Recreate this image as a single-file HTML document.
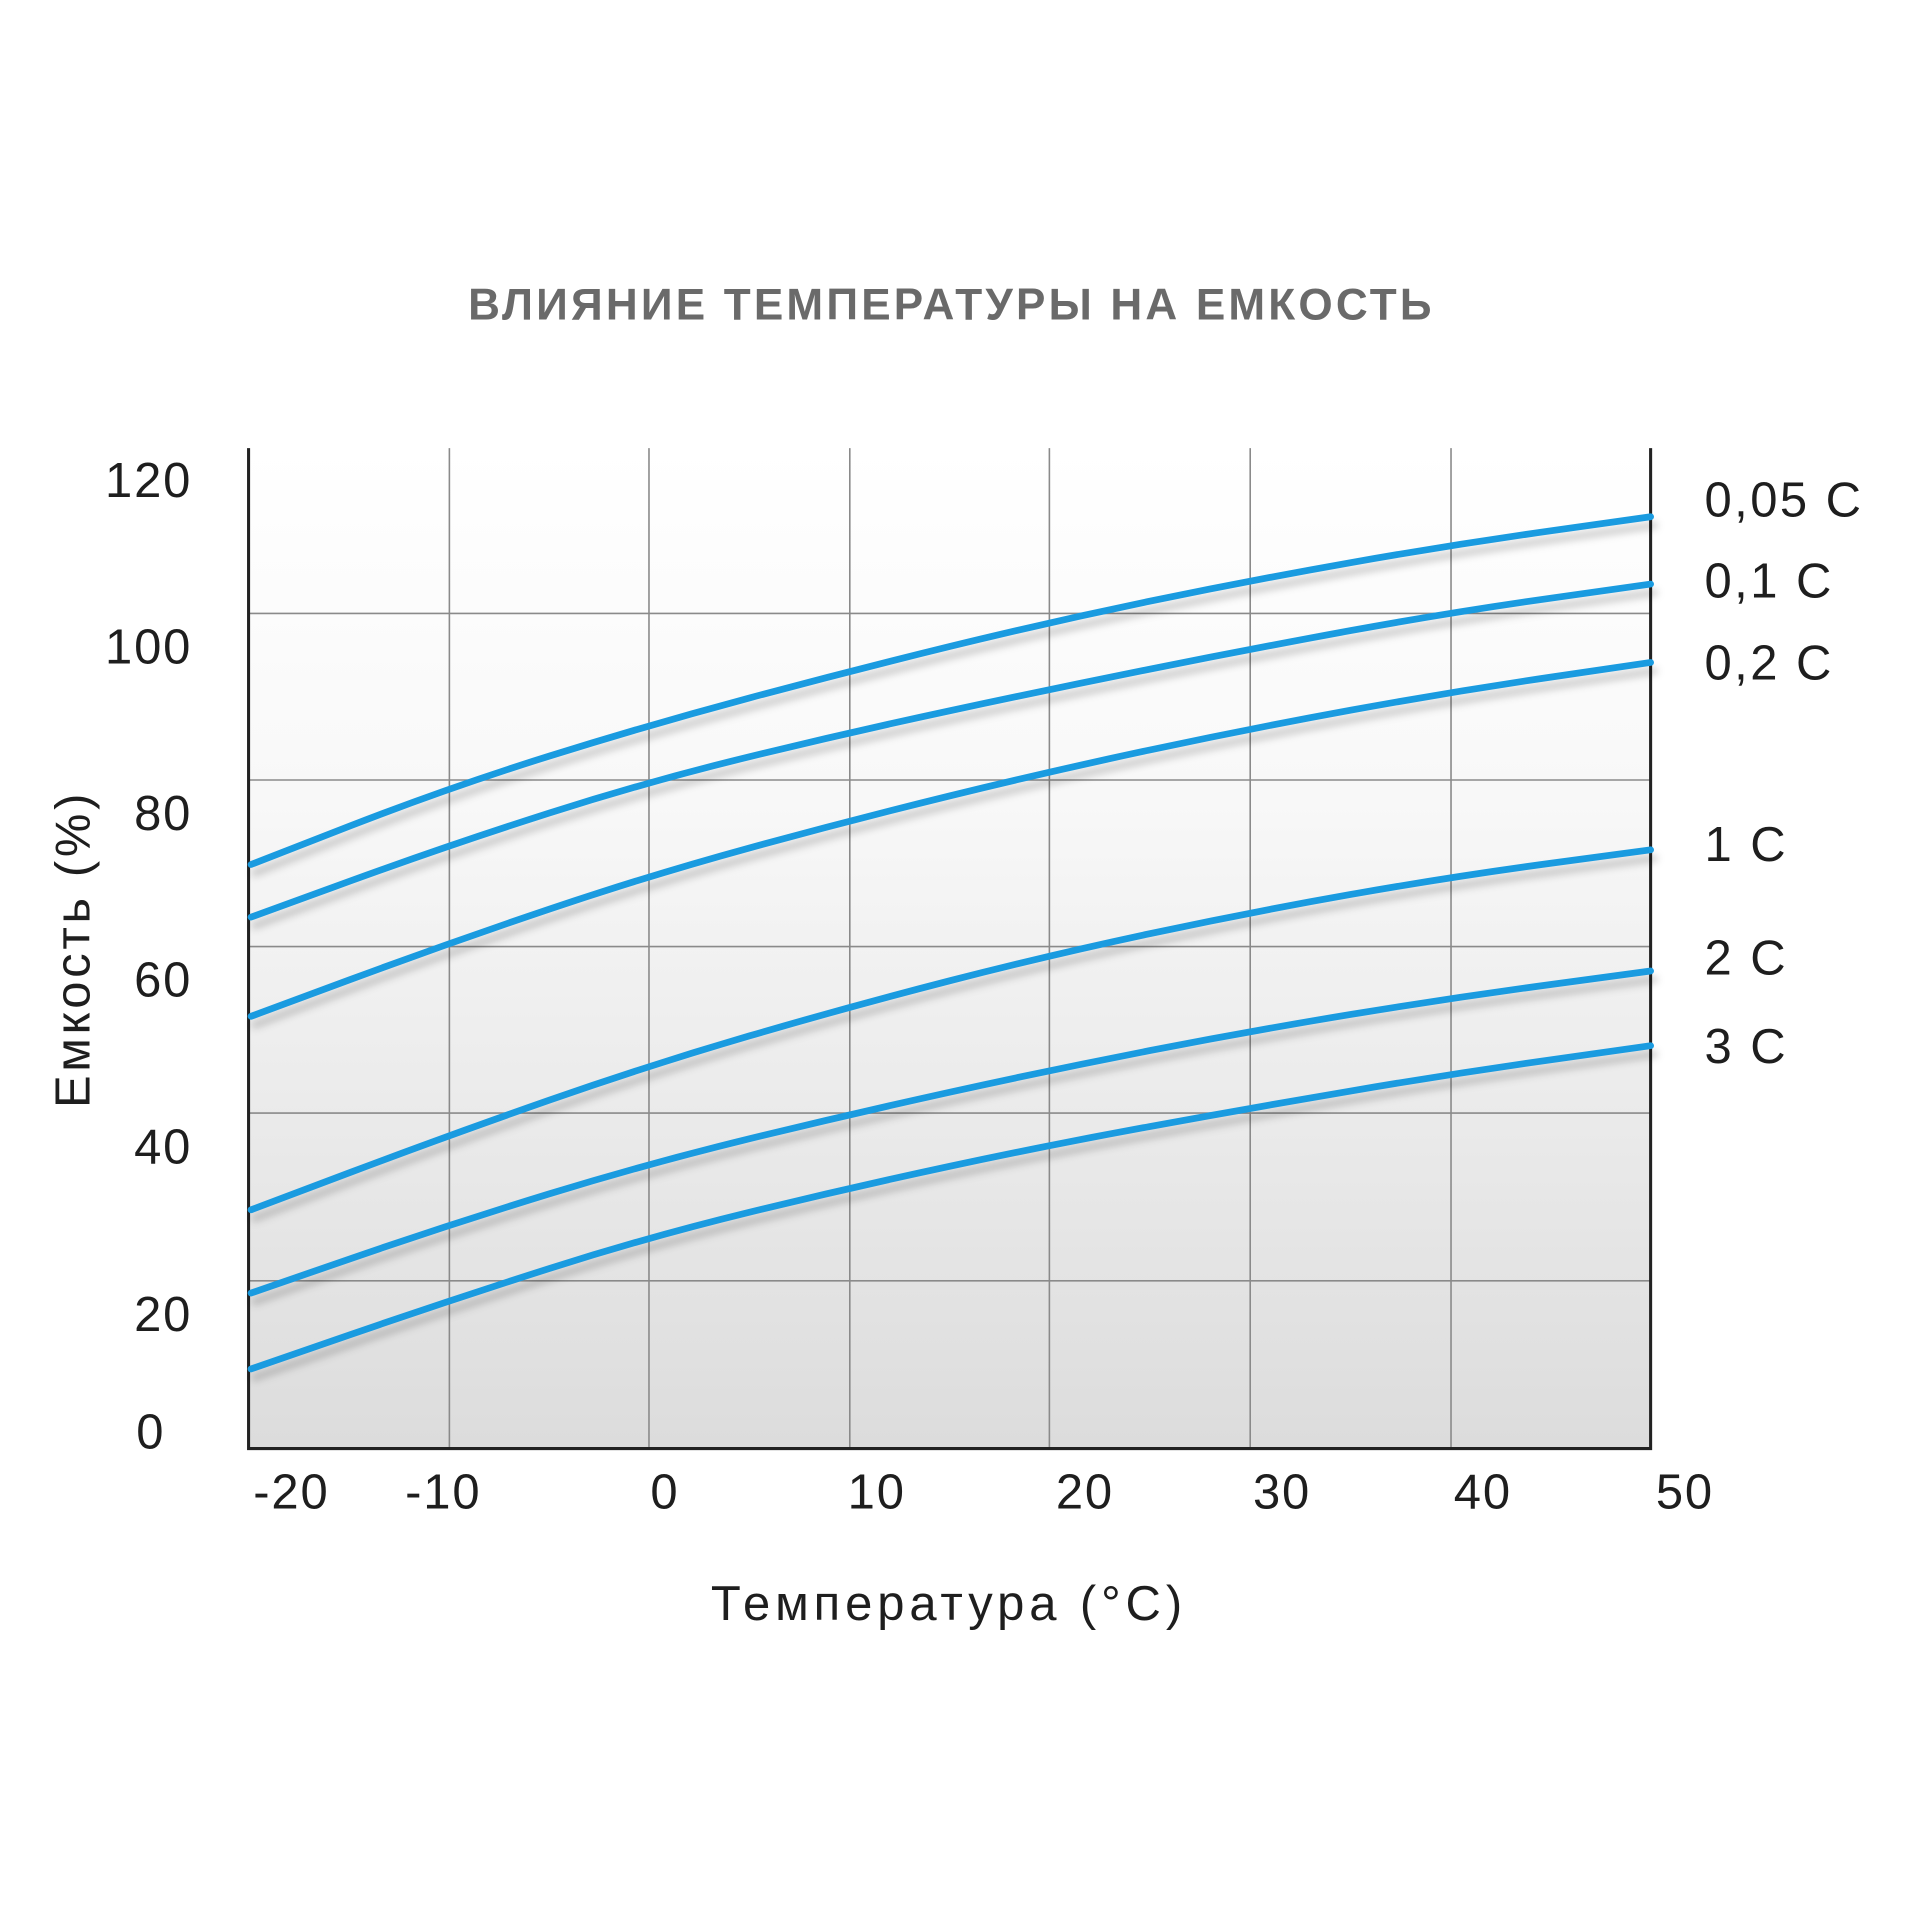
<!DOCTYPE html>
<html><head><meta charset="utf-8"><style>html,body{margin:0;padding:0;background:#fff}svg{display:block}</style></head>
<body>
<svg width="1920" height="1920" viewBox="0 0 1568 1568" xmlns="http://www.w3.org/2000/svg" font-family="'Liberation Sans','DejaVu Sans',sans-serif">
<defs>
<linearGradient id="bg" x1="0" y1="0" x2="0" y2="1">
<stop offset="0" stop-color="#ffffff"/><stop offset="0.35" stop-color="#f8f8f8"/><stop offset="1" stop-color="#dcdcdc"/>
</linearGradient>
<filter id="sh" x="-5%" y="-20%" width="110%" height="140%"><feGaussianBlur stdDeviation="3"/></filter>
<path id="c1" d="M205,706 L286,674.5 Q367,643 448.5,617.5 Q530,592 612,570 Q694,548 775.5,528 Q857,508 939,491 Q1021,474 1103,459.5 Q1185,445 1266.5,433.5 L1348,422"/>
<path id="c2" d="M205,749 L286,719.5 Q367,690 448.5,664 Q530,638 612,618 Q694,598 775.5,580.5 Q857,563 939,546.5 Q1021,530 1103,515 Q1185,500 1266.5,488.5 L1348,477"/>
<path id="c3" d="M205,830 L286,800 Q367,770 448.5,742.5 Q530,715 612,692.5 Q694,670 775.5,650 Q857,630 939,612.5 Q1021,595 1103,580 Q1185,565 1266.5,553 L1348,541"/>
<path id="c4" d="M205,988 L286,957.5 Q367,927 448.5,898.5 Q530,870 612,846 Q694,822 775.5,801 Q857,780 939,762.5 Q1021,745 1103,730.5 Q1185,716 1266.5,705 L1348,694"/>
<path id="c5" d="M205,1056 L286,1028 Q367,1000 448.5,975 Q530,950 612,930 Q694,910 775.5,892 Q857,874 939,858 Q1021,842 1103,828.5 Q1185,815 1266.5,804 L1348,793"/>
<path id="c6" d="M205,1118 L286,1090 Q367,1062 448.5,1036 Q530,1010 612,990 Q694,970 775.5,952.5 Q857,935 939,920 Q1021,905 1103,891 Q1185,877 1266.5,865.5 L1348,854"/>
</defs>
<rect width="1568" height="1568" fill="#fff"/>
<text x="777" y="261" text-anchor="middle" font-size="36" font-weight="bold" fill="#6a6a6a" letter-spacing="2.6">ВЛИЯНИЕ ТЕМПЕРАТУРЫ НА ЕМКОСТЬ</text>
<rect x="203" y="366" width="1145" height="817" fill="url(#bg)"/>
<g stroke="#8a8a8a" stroke-width="1.3">
<line x1="367" y1="366" x2="367" y2="1183"/><line x1="530" y1="366" x2="530" y2="1183"/>
<line x1="694" y1="366" x2="694" y2="1183"/><line x1="857" y1="366" x2="857" y2="1183"/>
<line x1="1021" y1="366" x2="1021" y2="1183"/><line x1="1185" y1="366" x2="1185" y2="1183"/>
<line x1="203" y1="501" x2="1348" y2="501"/><line x1="203" y1="637" x2="1348" y2="637"/>
<line x1="203" y1="773" x2="1348" y2="773"/><line x1="203" y1="909" x2="1348" y2="909"/>
<line x1="203" y1="1046" x2="1348" y2="1046"/>
</g>
<g stroke="#222" stroke-width="2.5" fill="none">
<polyline points="203,366 203,1183 1348,1183 1348,366"/>
</g>
<g fill="none" stroke-linecap="round" stroke-linejoin="round">
<g stroke="#000" stroke-opacity="0.18" stroke-width="6" filter="url(#sh)" transform="translate(3,7)">
<use href="#c1"/><use href="#c2"/><use href="#c3"/><use href="#c4"/><use href="#c5"/><use href="#c6"/>
</g>
<g stroke="#1a9be0" stroke-width="5.5">
<use href="#c1"/><use href="#c2"/><use href="#c3"/><use href="#c4"/><use href="#c5"/><use href="#c6"/>
</g>
</g>
<g font-size="40" fill="#1e1e1e">
<g text-anchor="end" letter-spacing="1.5">
<text x="157" y="406">120</text><text x="157" y="542">100</text><text x="157" y="678">80</text>
<text x="157" y="814">60</text><text x="157" y="950">40</text><text x="157" y="1087">20</text>
<text x="135" y="1183">0</text>
</g>
<g text-anchor="middle" letter-spacing="1.5">
<text x="238" y="1232">-20</text><text x="362" y="1232">-10</text><text x="543" y="1232">0</text>
<text x="716" y="1232">10</text><text x="886" y="1232">20</text><text x="1047" y="1232">30</text>
<text x="1211" y="1232">40</text><text x="1376" y="1232">50</text>
</g>
<g letter-spacing="2">
<text x="1392" y="422">0,05 C</text><text x="1392" y="488">0,1 C</text><text x="1392" y="555">0,2 C</text>
<text x="1392" y="703">1 C</text><text x="1392" y="796">2 C</text><text x="1392" y="868">3 C</text>
</g>
<text x="775" y="1323" text-anchor="middle" letter-spacing="4">Температура (°C)</text>
<text transform="translate(73,775) rotate(-90)" text-anchor="middle" letter-spacing="3">Емкость (%)</text>
</g>
</svg>
</body></html>
